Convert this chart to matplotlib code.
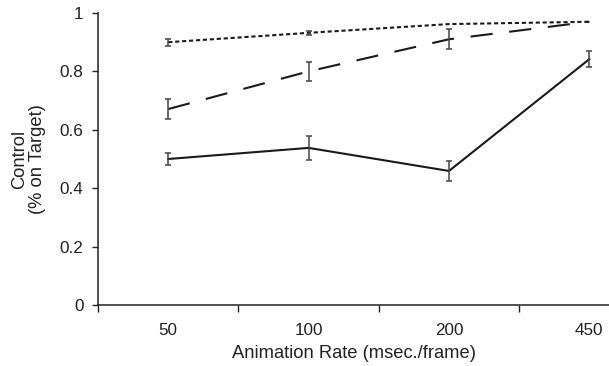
from matplotlib import pyplot as plt
import numpy as np

plt.rcParams['font.family'] = ['Liberation Sans', 'DejaVu Sans']
plt.rcParams['lines.scale_dashes'] = False

# animation rates (categorical)
rates = ['50', '100', '200', '450']
# solid line
solid = [0.50, 0.538, 0.459, 0.842]
solid_err = [0.02, 0.04, 0.035, 0.028]
# long dashes
dashed = [0.671, 0.80, 0.91, 0.97]
dashed_err = [0.034, 0.033, 0.034, 0.0]
# short dashes
dotted = [0.90, 0.932, 0.962, 0.97]
dotted_err = [0.012, 0.006, 0.0, 0.0]

x = np.arange(len(rates))

fig = plt.figure(figsize=(6.09, 3.66), dpi=100)
ax = fig.add_axes([0.161, 0.1667, 0.839, 0.7978])

ebc = '#444444'
for vals, err, ls in [(solid, solid_err, '-'),
                      (dashed, dashed_err, (0, (16, 12))),
                      (dotted, dotted_err, (0, (3, 2)))]:
    ax.plot(x, vals, color='#1a1a1a', lw=1.5, linestyle=ls, zorder=3)
    e = np.array(err)
    m = e > 0
    ax.errorbar(x[m], np.array(vals)[m], yerr=e[m], fmt='none', ecolor=ebc,
                elinewidth=1.1, capsize=2.5, capthick=1.1, zorder=4)

ax.set_xlim(-0.5, 3.14)
ax.set_ylim(0, 1)
ax.set_xticks(x)
ax.set_xticklabels(rates)
ax.set_xticks(np.arange(-0.5, 3.0, 1.0), minor=True)
ax.set_yticks([0, 0.2, 0.4, 0.6, 0.8, 1.0])
ax.set_yticklabels(['0', '0.2', '0.4', '0.6', '0.8', '1'])
ax.tick_params(axis='x', which='major', length=0, pad=13, labelsize=12.3, labelcolor='#222222')
ax.tick_params(axis='x', which='minor', length=5, width=1.0, direction='out', color='#222222')
ax.tick_params(axis='y', length=4.5, width=1.0, direction='out', color='#222222', labelsize=12.3,
               pad=6, labelcolor='#222222')

for s in ['top', 'right']:
    ax.spines[s].set_visible(False)
for s in ['left', 'bottom']:
    ax.spines[s].set_linewidth(1.1)
    ax.spines[s].set_color('#222222')

ax.set_xlabel('Animation Rate (msec./frame)', fontsize=13.2, labelpad=5, color='#222222')
ax.set_ylabel('Control\n(% on Target)', fontsize=13.2, color='#222222', linespacing=1.1)
ax.yaxis.set_label_coords(-0.101, 0.5)

fig.savefig('out.png', dpi=100)
